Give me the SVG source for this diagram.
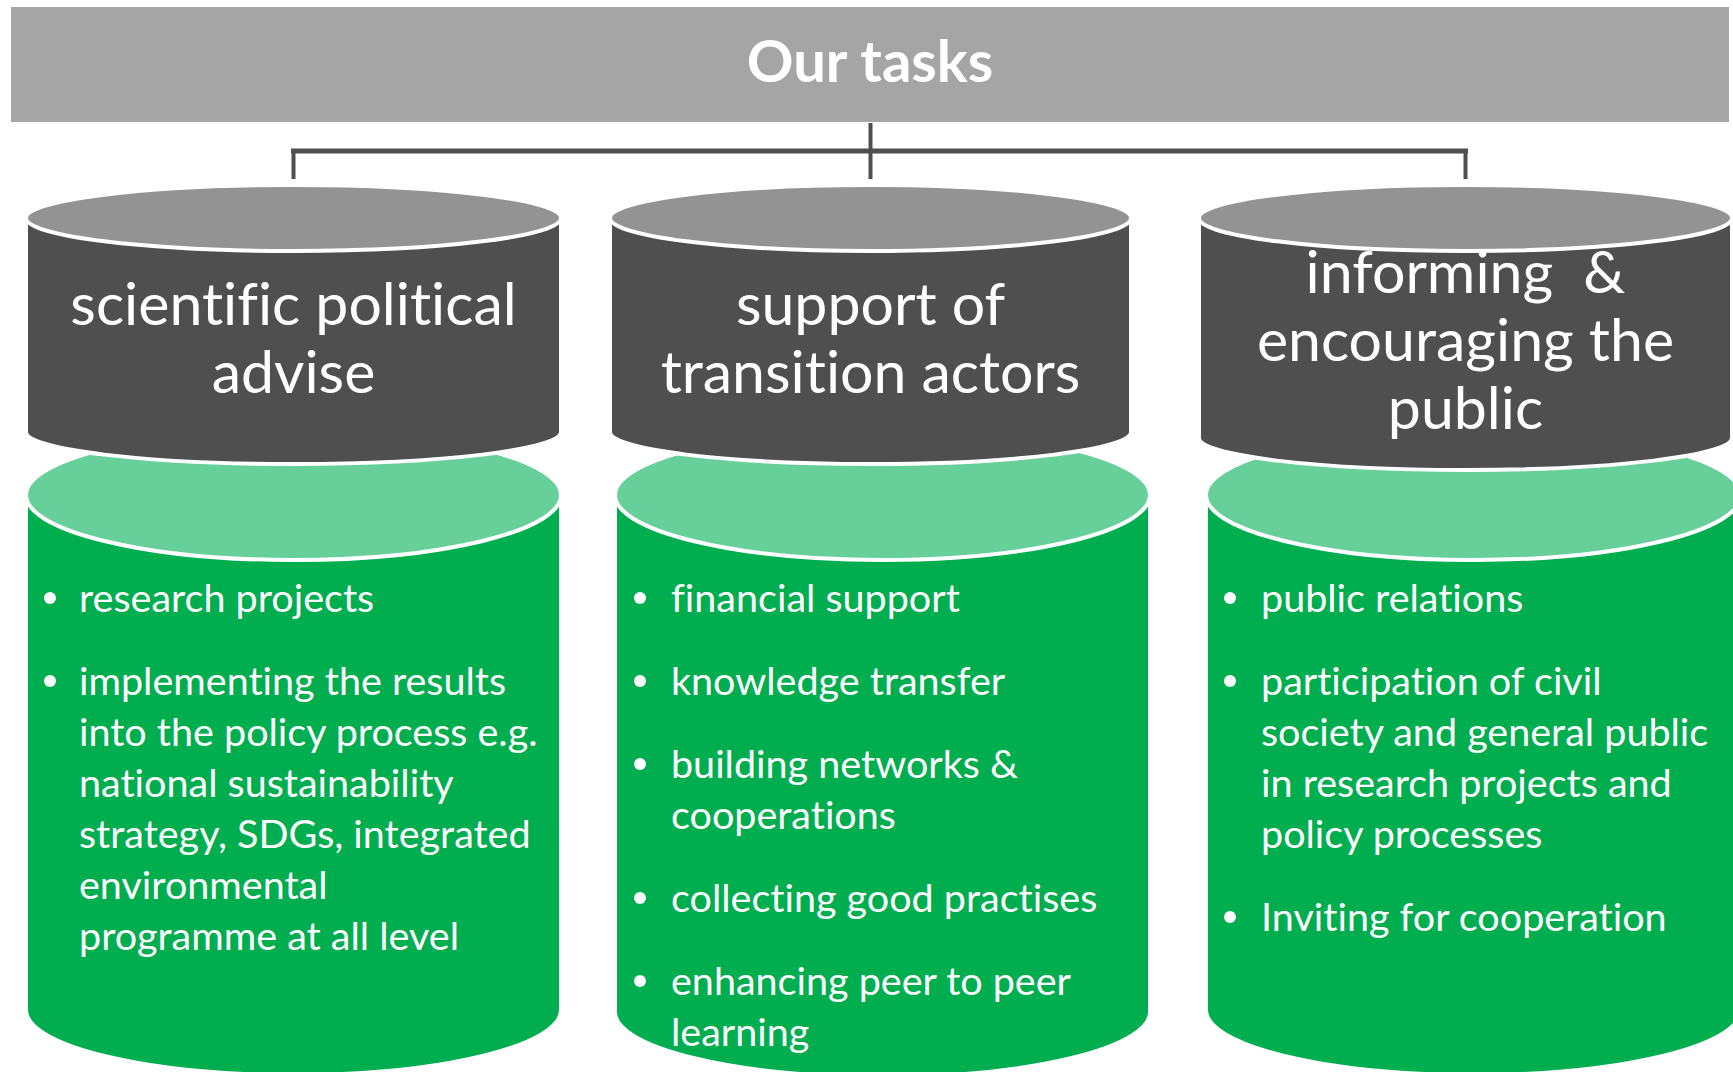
<svg xmlns="http://www.w3.org/2000/svg" width="1733" height="1072" viewBox="0 0 1733 1072">
<style>
.bar{fill:#A5A5A5}
.gtop{fill:#939393;stroke:#FFFFFF;stroke-width:4}
.gbody{fill:#4F4F4F;stroke:#FFFFFF;stroke-width:4}
.ltop{fill:#67D09A;stroke:#FFFFFF;stroke-width:4}
.lbody{fill:#00AE50;stroke:#FFFFFF;stroke-width:4}
.conn{fill:none;stroke:#4F4F4F;stroke-linecap:butt}
text{font-family:Lato,"Open Sans","Liberation Sans",sans-serif;fill:#FFFFFF;font-variant-ligatures:none;font-feature-settings:"liga" 0,"clig" 0}
.title{font-weight:bold;font-size:58px;text-anchor:middle}
.head{font-size:59px;text-anchor:middle}
.item{font-size:39.5px}
.dot{fill:#FFFFFF}
</style>
<g id="header">
<rect class="bar" x="11" y="7" width="1718" height="115"/>
<text class="title" x="870" y="82">Our tasks</text>
</g>
<g id="connectors">
<path class="conn" stroke-width="4" d="M870.5 123 V151"/>
<path class="conn" stroke-width="5" d="M291 151 H1468"/>
<path class="conn" stroke-width="4" d="M293.5 151 V179 M870.5 151 V179 M1465.5 151 V179"/>
</g>
<g id="col1">
<path class="lbody" d="M26 495 L26 1010 A267.5 65 0 0 0 561 1010 L561 495 Z"/>
<ellipse class="ltop" cx="293.5" cy="495" rx="267.5" ry="65"/>
<path class="gbody" d="M26 218 L26 432 A267.5 32 0 0 0 561 432 L561 218 Z"/>
<ellipse class="gtop" cx="293.5" cy="218" rx="267.5" ry="33"/>
<text class="head" x="293.5" y="325">scientific political</text>
<text class="head" x="293.5" y="393">advise</text>
<circle class="dot" cx="50" cy="598" r="6"/>
<text class="item" x="79" y="612">research projects</text>
<circle class="dot" cx="50" cy="681" r="6"/>
<text class="item" x="79" y="695">implementing the results</text>
<text class="item" x="79" y="746">into the policy process e.g.</text>
<text class="item" x="79" y="797">national sustainability</text>
<text class="item" x="79" y="848">strategy, SDGs, integrated</text>
<text class="item" x="79" y="899">environmental</text>
<text class="item" x="79" y="950">programme at all level</text>
</g>
<g id="col2">
<path class="lbody" d="M615 495 L615 1012 A267.5 65 0 0 0 1150 1012 L1150 495 Z"/>
<ellipse class="ltop" cx="882.5" cy="495" rx="267.5" ry="65"/>
<path class="gbody" d="M610 218 L610 432 A260.5 32 0 0 0 1131 432 L1131 218 Z"/>
<ellipse class="gtop" cx="870.5" cy="218" rx="260.5" ry="33"/>
<text class="head" x="870.5" y="325">support of</text>
<text class="head" x="870.5" y="393">transition actors</text>
<circle class="dot" cx="640" cy="598" r="6"/>
<text class="item" x="671" y="612">financial support</text>
<circle class="dot" cx="640" cy="681" r="6"/>
<text class="item" x="671" y="695">knowledge transfer</text>
<circle class="dot" cx="640" cy="764" r="6"/>
<text class="item" x="671" y="778">building networks &amp;</text>
<text class="item" x="671" y="829">cooperations</text>
<circle class="dot" cx="640" cy="898" r="6"/>
<text class="item" x="671" y="912">collecting good practises</text>
<circle class="dot" cx="640" cy="981" r="6"/>
<text class="item" x="671" y="995">enhancing peer to peer</text>
<text class="item" x="671" y="1046">learning</text>
</g>
<g id="col3">
<path class="lbody" d="M1206 495 L1206 1010 A267.5 65 0 0 0 1741 1010 L1741 495 Z"/>
<ellipse class="ltop" cx="1473.5" cy="495" rx="267.5" ry="65"/>
<path class="gbody" d="M1199 218 L1199 438 A266.5 32 0 0 0 1732 438 L1732 218 Z"/>
<ellipse class="gtop" cx="1465.5" cy="218" rx="266.5" ry="33"/>
<text class="head" x="1465.5" y="293" xml:space="preserve">informing  &amp;</text>
<text class="head" x="1465.5" y="361">encouraging the</text>
<text class="head" x="1465.5" y="429">public</text>
<circle class="dot" cx="1230" cy="598" r="6"/>
<text class="item" x="1261" y="612">public relations</text>
<circle class="dot" cx="1230" cy="681" r="6"/>
<text class="item" x="1261" y="695">participation of civil</text>
<text class="item" x="1261" y="746">society and general public</text>
<text class="item" x="1261" y="797">in research projects and</text>
<text class="item" x="1261" y="848">policy processes</text>
<circle class="dot" cx="1230" cy="917" r="6"/>
<text class="item" x="1261" y="931">Inviting for cooperation</text>
</g>
</svg>
